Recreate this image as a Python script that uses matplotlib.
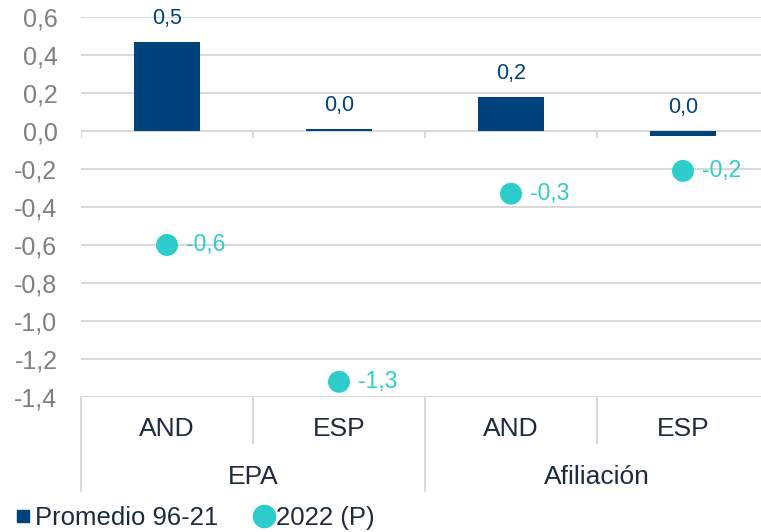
"""Promedio 96-21 vs 2022 (P): EPA y Afiliación, AND vs ESP."""
import matplotlib.pyplot as plt
from matplotlib.lines import Line2D
import numpy as np

plt.rcParams["font.family"] = ["Liberation Sans", "DejaVu Sans"]

# data
categories = ["AND", "ESP", "AND", "ESP"]
groups = ["EPA", "Afiliación"]
promedio = [0.47, 0.01, 0.18, -0.025]
p2022 = [-0.60, -1.32, -0.33, -0.21]
promedio_labels = ["0,5", "0,0", "0,2", "0,0"]
p2022_labels = ["-0,6", "-1,3", "-0,3", "-0,2"]
yticks = [0.6, 0.4, 0.2, 0.0, -0.2, -0.4, -0.6, -0.8, -1.0, -1.2, -1.4]

NAVY = "#00437C"
TEAL = "#2ECDCB"
GRID = "#D9D9D9"
TEXT = "#1E2B3F"

W, H = 761, 532
fig = plt.figure(figsize=(W / 100, H / 100), dpi=100)
ax = fig.add_axes([81 / W, 1 - 397 / H, (769 - 81) / W, (397 - 17) / H])

x = np.arange(len(categories))
ax.bar(x, promedio, width=0.38, color=NAVY, zorder=3)
ax.scatter(x, p2022, s=250, color=TEAL, edgecolors="none", zorder=4, clip_on=False)

for xi, v, lab in zip(x, promedio, promedio_labels):
    ax.annotate(lab, (xi, max(v, 0)), xytext=(0, 17), textcoords="offset points",
                ha="center", va="center", fontsize=15.5, color=NAVY, annotation_clip=False)
for xi, v, lab in zip(x, p2022, p2022_labels):
    ax.annotate(lab, (xi, v), xytext=(14, 0), textcoords="offset points",
                ha="left", va="center", fontsize=16.5, color=TEAL, annotation_clip=False)

ax.set_xlim(-0.5, len(categories) - 0.5)
ax.set_ylim(-1.4, 0.6)
ax.set_yticks(yticks)
ax.set_yticklabels([f"{t:.1f}".replace(".", ",") for t in yticks], fontsize=18, color="#7F7F7F")
ax.tick_params(axis="y", length=0, pad=17)
ax.set_xticks([])
for s in ax.spines.values():
    s.set_visible(False)
ax.grid(axis="y", color=GRID, linewidth=1.5, zorder=0)

# small ticks on the zero line at category boundaries
trans = ax.get_xaxis_transform()
for b in np.arange(-0.5, len(categories), 1.0):
    ax.plot([b, b], [0, -0.03], color=GRID, lw=1.5, zorder=1)

# multi-level category axis
for i, b in enumerate(np.arange(-0.5, len(categories), 1.0)):
    bottom = -0.247 if i % 2 == 0 else -0.121
    ax.add_line(Line2D([b, b], [0, bottom], transform=trans, color=GRID, lw=1.5, clip_on=False))
for xi, c in zip(x, categories):
    ax.text(xi, -0.084, c, transform=trans, ha="center", va="center", fontsize=19, color=TEXT)
for gi, g in enumerate(groups):
    ax.text(2 * gi + 0.5, -0.21, g, transform=trans, ha="center", va="center", fontsize=19, color=TEXT)

handles = [
    Line2D([], [], marker="s", linestyle="none", color=NAVY, markersize=9),
    Line2D([], [], marker="o", linestyle="none", color=TEAL, markersize=16),
]
fig.legend(handles, ["Promedio 96-21", "2022 (P)"], loc="center left",
           bbox_to_anchor=(17 / W, 14 / H), ncol=2, frameon=False, fontsize=18.5,
           handlelength=0.5, handletextpad=0.2, columnspacing=1.55, labelcolor=TEXT,
           borderaxespad=0, borderpad=0)

fig.savefig("out.png", dpi=100)
